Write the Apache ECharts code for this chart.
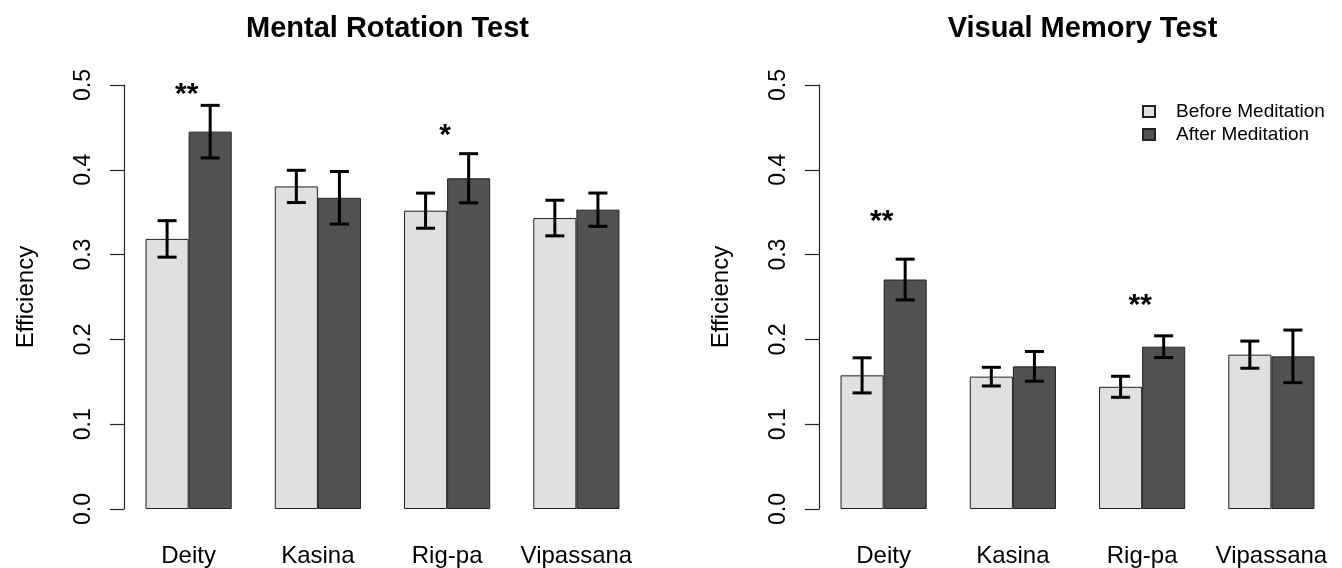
<!DOCTYPE html>
<html>
<head>
<meta charset="utf-8">
<script src="https://cdn.jsdelivr.net/npm/echarts@6/dist/echarts.min.js"></script>
<style>
  html, body { margin: 0; padding: 0; background: #fff; }
  #chart { width: 1342px; height: 568px; }
</style>
</head>
<body>
<div id="chart"></div>
<script>
// ---- Data ----
const categories = ['Deity', 'Kasina', 'Rig-pa', 'Vipassana'];
const seriesNames = ['Before Meditation', 'After Meditation'];
const yTicks = [0, 0.1, 0.2, 0.3, 0.4, 0.5];

const titles = ['Mental Rotation Test', 'Visual Memory Test'];

// Mental Rotation Test
const mrBefore = [0.3185, 0.3804, 0.3518, 0.3431];
const mrBeforeErr = [0.0215, 0.0190, 0.0207, 0.0210];
const mrAfter = [0.445, 0.367, 0.390, 0.353];
const mrAfterErr = [0.031, 0.031, 0.029, 0.0196];
const mrStars = ['**', '', '*', ''];
const mrStarY = [0.4965, null, 0.449, null];

// Visual Memory Test
const vmBefore = [0.1576, 0.1561, 0.1441, 0.182];
const vmBeforeErr = [0.0207, 0.0110, 0.0124, 0.0160];
const vmAfter = [0.2706, 0.1682, 0.1914, 0.180];
const vmAfterErr = [0.024, 0.0175, 0.0128, 0.031];
const vmStars = ['**', '', '**', ''];
const vmStarY = [0.347, null, 0.248, null];

// ---- Styling ----
const FONT = '"Liberation Sans", Arial, Helvetica, sans-serif';
const BEFORE_COLOR = '#e0e0e0';
const AFTER_COLOR = '#515151';

const panels = [
  { before: mrBefore, beforeErr: mrBeforeErr, after: mrAfter, afterErr: mrAfterErr, stars: mrStars, starY: mrStarY },
  { before: vmBefore, beforeErr: vmBeforeErr, after: vmAfter, afterErr: vmAfterErr, stars: vmStars, starY: vmStarY }
];

const gridLefts = [124, 819];
const GRID_W = 517;

const grids = gridLefts.map(l => ({ left: l, top: 85, width: GRID_W, height: 425 }));

const xAxes = gridLefts.map((l, i) => ({
  type: 'category',
  gridIndex: i,
  data: categories,
  axisLine: { show: false },
  axisTick: { show: false },
  axisLabel: { interval: 0, fontSize: 24, fontFamily: FONT, color: '#000', margin: 35 }
}));

const yAxes = gridLefts.map((l, i) => ({
  type: 'value',
  gridIndex: i,
  min: yTicks[0],
  max: yTicks[yTicks.length - 1],
  interval: 0.1,
  name: 'Efficiency',
  nameLocation: 'middle',
  nameRotate: 90,
  nameGap: 86,
  nameTextStyle: { fontSize: 24, fontFamily: FONT, color: '#000' },
  splitLine: { show: false },
  axisLine: { show: true, lineStyle: { color: '#222', width: 1.2 } },
  axisTick: { show: true, length: 14, lineStyle: { color: '#222', width: 1.2 } },
  axisLabel: {
    rotate: 90, fontSize: 23, fontFamily: FONT, color: '#000', margin: 29,
    formatter: v => v.toFixed(1)
  }
}));

const titleOpts = titles.map((t, i) => ({
  text: t,
  left: gridLefts[i] + GRID_W / 2,
  textAlign: 'center',
  top: 9,
  textStyle: { fontSize: 29, fontWeight: 'bold', fontFamily: FONT, color: '#000' }
}));

function errRender(params, api) {
  const idx = api.value(0);
  const mean = api.value(1);
  const err = api.value(2);
  const side = api.value(3);
  const band = api.size([1, 0])[0];
  const c = api.coord([idx, mean]);
  const x = c[0] + side * band / 6;
  const yT = api.coord([idx, mean + err])[1];
  const yB = api.coord([idx, mean - err])[1];
  const hw = 9.5;
  const st = { stroke: '#000', lineWidth: 3 };
  return {
    type: 'group',
    children: [
      { type: 'line', shape: { x1: x, y1: yT, x2: x, y2: yB }, style: st },
      { type: 'line', shape: { x1: x - hw, y1: yT, x2: x + hw, y2: yT }, style: st },
      { type: 'line', shape: { x1: x - hw, y1: yB, x2: x + hw, y2: yB }, style: st }
    ]
  };
}

const series = [];
panels.forEach((p, i) => {
  series.push({
    name: seriesNames[0], type: 'bar', xAxisIndex: i, yAxisIndex: i,
    data: p.before, barWidth: '33.33%', barGap: '0%',
    itemStyle: { color: BEFORE_COLOR, borderColor: '#222', borderWidth: 1 }
  });
  series.push({
    name: seriesNames[1], type: 'bar', xAxisIndex: i, yAxisIndex: i,
    data: p.after, barWidth: '33.33%', barGap: '0%',
    itemStyle: { color: AFTER_COLOR, borderColor: '#222', borderWidth: 1 }
  });
  const errData = [];
  categories.forEach((c, k) => {
    errData.push([k, p.before[k], p.beforeErr[k], -1]);
    errData.push([k, p.after[k], p.afterErr[k], 1]);
  });
  series.push({
    type: 'custom', xAxisIndex: i, yAxisIndex: i, z: 5,
    renderItem: errRender, data: errData, silent: true
  });
  const starData = [];
  categories.forEach((c, k) => {
    if (p.stars[k]) starData.push({ value: [k, p.starY[k]], star: p.stars[k] });
  });
  series.push({
    type: 'custom', xAxisIndex: i, yAxisIndex: i, z: 6, silent: true,
    data: starData.map(d => d.value),
    renderItem: function (params, api) {
      const d = starData[params.dataIndex];
      const c = api.coord([api.value(0), api.value(1)]);
      return {
        type: 'text', x: c[0] - 2, y: c[1] + 7,
        style: {
          text: d.star, fontSize: 30, fontWeight: 'bold', fontFamily: FONT, fill: '#000',
          align: 'center', verticalAlign: 'middle'
        }
      };
    }
  });
});

const chart = echarts.init(document.getElementById('chart'), null, { renderer: 'canvas' });
chart.setOption({
  animation: false,
  backgroundColor: '#fff',
  title: titleOpts,
  grid: grids,
  xAxis: xAxes,
  yAxis: yAxes,
  legend: {
    data: seriesNames,
    orient: 'vertical',
    left: 1142,
    top: 102,
    padding: 0,
    icon: 'rect',
    itemWidth: 12,
    itemHeight: 11,
    itemGap: 4,
    textStyle: { fontSize: 19, fontFamily: FONT, color: '#000', padding: [0, 0, 0, 16] }
  },
  series: series
});
</script>
</body>
</html>
